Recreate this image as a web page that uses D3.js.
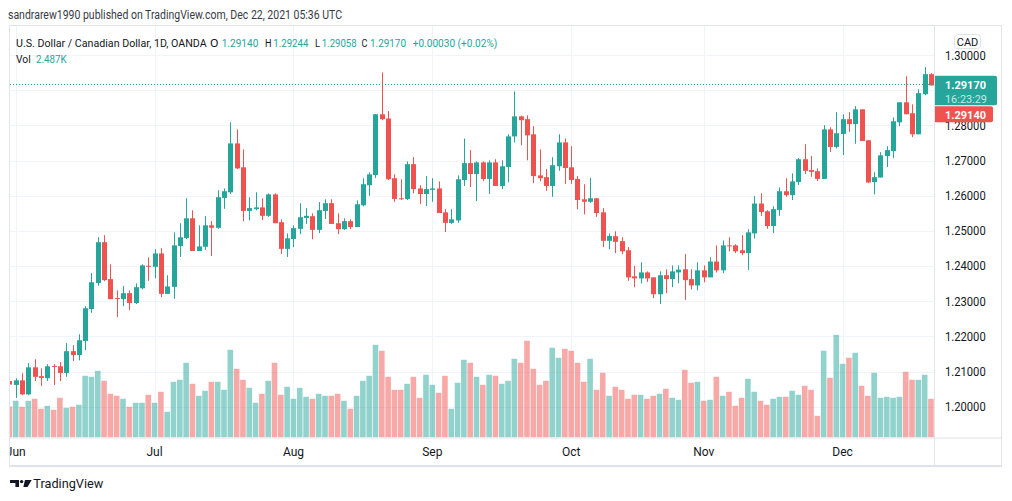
<!DOCTYPE html>
<html><head><meta charset="utf-8">
<script src="https://cdn.jsdelivr.net/npm/d3@7"></script>
<style>body{margin:0;background:#fff;}svg{display:block;font-family:Roboto,"Liberation Sans",sans-serif;}</style>
</head><body><svg id="c" width="1012" height="501"></svg>
<script>
// ---- data (USD/CAD daily, OANDA) ----
const firstDate = "2021-05-31";           // first visible session, weekdays follow
const openP  = [1.2073,1.2062,1.2075,1.2035,1.2112,1.2087,1.2081,1.2116,1.2115,1.2096,1.2158,1.2147,1.2187,1.2278,1.2352,1.2468,1.2363,1.2309,1.2306,1.2323,1.2295,1.2337,1.2401,1.2398,1.2436,1.2321,1.2341,1.2457,1.2480,1.2536,1.2443,1.2455,1.2516,1.2509,1.2594,1.2610,1.2749,1.2681,1.2557,1.2562,1.2567,1.2543,1.2604,1.2525,1.2449,1.2477,1.2506,1.2537,1.2542,1.2503,1.2557,1.2579,1.2522,1.2505,1.2528,1.2511,1.2573,1.2630,1.2659,1.2832,1.2820,1.2650,1.2593,1.2591,1.2690,1.2621,1.2605,1.2617,1.2621,1.2553,1.2523,1.2530,1.2645,1.2693,1.2662,1.2695,1.2648,1.2695,1.2628,1.2682,1.2769,1.2826,1.2818,1.2775,1.2658,1.2653,1.2628,1.2684,1.2752,1.2681,1.2648,1.2590,1.2583,1.2593,1.2553,1.2472,1.2485,1.2471,1.2445,1.2371,1.2365,1.2382,1.2368,1.2320,1.2374,1.2363,1.2382,1.2391,1.2363,1.2345,1.2388,1.2368,1.2413,1.2388,1.2459,1.2459,1.2445,1.2437,1.2493,1.2578,1.2556,1.2514,1.2560,1.2613,1.2602,1.2639,1.2704,1.2673,1.2670,1.2648,1.2789,1.2739,1.2776,1.2818,1.2804,1.2846,1.2758,1.2639,1.2652,1.2713,1.2727,1.2809,1.2866,1.2835,1.2775,1.2889,1.2946,1.2914];
const highP  = [1.2080,1.2081,1.2095,1.2124,1.2135,1.2109,1.2121,1.2121,1.2127,1.2181,1.2175,1.2206,1.2286,1.2380,1.2482,1.2488,1.2405,1.2331,1.2343,1.2331,1.2351,1.2405,1.2425,1.2448,1.2451,1.2374,1.2496,1.2522,1.2593,1.2559,1.2516,1.2542,1.2528,1.2616,1.2621,1.2809,1.2789,1.2732,1.2596,1.2610,1.2593,1.2607,1.2607,1.2533,1.2493,1.2516,1.2579,1.2565,1.2550,1.2582,1.2590,1.2590,1.2550,1.2536,1.2533,1.2587,1.2650,1.2667,1.2832,1.2951,1.2841,1.2661,1.2647,1.2698,1.2710,1.2630,1.2656,1.2650,1.2641,1.2562,1.2562,1.2658,1.2763,1.2730,1.2698,1.2698,1.2701,1.2704,1.2701,1.2775,1.2897,1.2828,1.2829,1.2798,1.2732,1.2676,1.2710,1.2775,1.2763,1.2741,1.2656,1.2633,1.2651,1.2594,1.2565,1.2493,1.2499,1.2482,1.2454,1.2400,1.2411,1.2385,1.2368,1.2385,1.2391,1.2402,1.2402,1.2434,1.2391,1.2411,1.2402,1.2425,1.2459,1.2473,1.2482,1.2462,1.2488,1.2505,1.2599,1.2607,1.2559,1.2570,1.2624,1.2650,1.2664,1.2707,1.2747,1.2713,1.2678,1.2801,1.2795,1.2838,1.2832,1.2838,1.2855,1.2846,1.2758,1.2667,1.2724,1.2741,1.2823,1.2866,1.2940,1.2860,1.2903,1.2966,1.2949,1.29244];
const lowP   = [1.2058,1.2025,1.2033,1.2033,1.2073,1.2059,1.2073,1.2062,1.2073,1.2085,1.2130,1.2132,1.2161,1.2267,1.2344,1.2357,1.2306,1.2255,1.2286,1.2275,1.2292,1.2334,1.2358,1.2365,1.2312,1.2321,1.2307,1.2426,1.2477,1.2443,1.2443,1.2446,1.2429,1.2506,1.2563,1.2605,1.2676,1.2528,1.2530,1.2559,1.2531,1.2540,1.2522,1.2435,1.2426,1.2454,1.2491,1.2520,1.2476,1.2494,1.2534,1.2520,1.2491,1.2503,1.2505,1.2511,1.2570,1.2600,1.2651,1.2815,1.2645,1.2583,1.2588,1.2588,1.2607,1.2577,1.2571,1.2583,1.2551,1.2497,1.2520,1.2523,1.2628,1.2625,1.2585,1.2642,1.2605,1.2628,1.2619,1.2639,1.2752,1.2744,1.2701,1.2636,1.2641,1.2614,1.2597,1.2671,1.2634,1.2634,1.2562,1.2547,1.2580,1.2540,1.2454,1.2448,1.2437,1.2434,1.2358,1.2340,1.2351,1.2355,1.2309,1.2292,1.2323,1.2340,1.2351,1.2304,1.2334,1.2331,1.2354,1.2368,1.2382,1.2380,1.2442,1.2437,1.2431,1.2389,1.2479,1.2543,1.2506,1.2494,1.2543,1.2597,1.2588,1.2631,1.2662,1.2654,1.2642,1.2648,1.2725,1.2735,1.2716,1.2782,1.2748,1.2756,1.2636,1.2604,1.2652,1.2682,1.2707,1.2798,1.2832,1.2767,1.2775,1.2886,1.2914,1.29058];
const closeP = [1.2063,1.2075,1.2035,1.2112,1.2085,1.2082,1.2115,1.2114,1.2096,1.2158,1.2147,1.2189,1.2280,1.2354,1.2468,1.2360,1.2306,1.2307,1.2323,1.2295,1.2340,1.2402,1.2399,1.2436,1.2321,1.2342,1.2459,1.2482,1.2536,1.2443,1.2456,1.2516,1.2509,1.2596,1.2613,1.2749,1.2678,1.2557,1.2565,1.2567,1.2543,1.2604,1.2522,1.2449,1.2479,1.2508,1.2539,1.2543,1.2503,1.2559,1.2579,1.2520,1.2505,1.2528,1.2511,1.2576,1.2633,1.2661,1.2832,1.2818,1.2647,1.2591,1.2591,1.2690,1.2619,1.2605,1.2619,1.2621,1.2551,1.2523,1.2533,1.2647,1.2693,1.2662,1.2695,1.2648,1.2695,1.2628,1.2684,1.2769,1.2826,1.2815,1.2772,1.2656,1.2650,1.2628,1.2687,1.2752,1.2679,1.2645,1.2588,1.2583,1.2593,1.2551,1.2472,1.2486,1.2469,1.2442,1.2368,1.2365,1.2382,1.2365,1.2320,1.2374,1.2363,1.2385,1.2390,1.2360,1.2345,1.2388,1.2368,1.2413,1.2388,1.2459,1.2457,1.2442,1.2437,1.2496,1.2578,1.2554,1.2514,1.2562,1.2613,1.2602,1.2641,1.2704,1.2671,1.2668,1.2648,1.2789,1.2739,1.2778,1.2818,1.2804,1.2846,1.2756,1.2638,1.2653,1.2715,1.2730,1.2812,1.2866,1.2832,1.2775,1.2892,1.2946,1.2914,1.2917];
const volumeK = [31,36.7,30.7,36.7,38.7,28.7,31.7,27.7,39.7,29.7,30.7,32.7,61.7,60.7,66.7,56.7,43.7,41.7,38.7,30.7,34.7,34.7,42.7,34.7,45.7,25.7,55.7,57.7,74.7,53.7,41.7,46.7,55.7,55.7,47.7,87.7,68.7,57.7,49.7,34.7,43.7,56.7,74.7,42.7,50.7,38.7,49.7,40.7,38.7,43.7,41.7,41.7,43.7,36.7,28.7,41.7,56.7,61.7,92.7,86.7,60.7,47.7,47.7,53.7,60.7,39.7,62.7,52.7,44.7,61.7,28.7,54.7,77.7,74.7,60.7,52.7,62.7,61.7,53.7,56.7,78.7,74.7,96.7,68.7,52.7,56.7,89.7,79.7,88.7,86.7,74.7,55.7,78.7,47.7,64.7,41.7,50.7,47.7,38.7,42.7,42.7,38.7,41.7,43.7,48.7,39.7,37.7,67.7,54.7,55.7,36.7,37.7,60.7,41.7,45.7,31.7,39.7,58.7,45.7,36.7,32.7,38.7,40.7,40.7,46.7,42.7,51.7,47.7,21.7,86.7,59.7,102.7,73.7,79.7,84.7,51.7,41.7,64.7,39.7,40.7,39.7,40.7,65.7,57.7,57.7,62.7,38.7,2.487];
const priceTicks = [1.20,1.21,1.22,1.23,1.24,1.25,1.26,1.27,1.28,1.29,1.30];
const monthNames = ["Jun","Jul","Aug","Sep","Oct","Nov","Dec"];
const prevClose = 1.29140;

// ---- build sessions (weekdays) ----
const dates = [];
{ let d = new Date(firstDate + "T00:00:00Z");
  while (dates.length < openP.length) { const wd = d.getUTCDay(); if (wd !== 0 && wd !== 6) dates.push(new Date(d)); d = new Date(d.getTime() + 864e5); } }
const bars = dates.map((d,i)=>({d, i, o:openP[i], h:highP[i], l:lowP[i], c:closeP[i], v:volumeK[i]}));
const n = bars.length;

const UP = "#26a69a", DN = "#ef5350", TXT = "#131722", GRID = "#f0f3fa", BORDER = "#e0e3eb";
const L = 10, R = 934, T = 26, B = 437.5, RIGHT = 1001.5, BOT = 465.5;
const step = 6.312;
const x = d3.scaleLinear().domain([0, n-1]).range([9.4, 9.4 + (n-1)*step]);
const y = d3.scaleLinear().domain([1.20, 1.30]).range([406.7, 55.2]);
const yv = d3.scaleLinear().domain([0, 100]).range([B, B-100]);

const svg = d3.select("#c");
svg.append("rect").attr("width",1012).attr("height",501).attr("fill","#fff");
const defs = svg.append("defs");
defs.append("clipPath").attr("id","plot").append("rect").attr("x",L).attr("y",T).attr("width",R-L).attr("height",B-T);
defs.append("clipPath").attr("id","taxis").append("rect").attr("x",L).attr("y",B).attr("width",R-L).attr("height",BOT-B);

// fitted text helper (reference font is narrower than the installed ones)
function fitText(sel, w){ return sel.attr("textLength", w).attr("lengthAdjust","spacingAndGlyphs"); }

// month ticks
const monthTicks = monthNames.map((m,k)=>{ const idx = bars.findIndex(b=>b.d.getUTCMonth()===5+k); return {m, idx}; });

// grid
const plot = svg.append("g").attr("clip-path","url(#plot)");
plot.selectAll("line.h").data(priceTicks).join("line").attr("x1",L).attr("x2",R)
  .attr("y1",d=>Math.round(y(d))+0.5).attr("y2",d=>Math.round(y(d))+0.5).attr("stroke",GRID).attr("stroke-width",1);
plot.selectAll("line.v").data(monthTicks).join("line").attr("y1",T).attr("y2",B)
  .attr("x1",d=>Math.round(x(d.idx))+0.5).attr("x2",d=>Math.round(x(d.idx))+0.5).attr("stroke",GRID);

// volume
const bw = 5;
plot.selectAll("rect.vol").data(bars).join("rect")
  .attr("x",d=>x(d.i)-bw/2-0.3).attr("width",bw+0.6)
  .attr("y",d=>yv(d.v)).attr("height",d=>B-yv(d.v))
  .attr("fill",d=>d.c>=d.o? "rgba(38,166,154,0.5)":"rgba(239,83,80,0.5)");

// candles
const cg = plot.selectAll("g.cd").data(bars).join("g");
cg.append("line").attr("x1",d=>Math.round(x(d.i))+0.5).attr("x2",d=>Math.round(x(d.i))+0.5)
  .attr("y1",d=>y(d.h)).attr("y2",d=>y(d.l)).attr("stroke",d=>d.c>=d.o?UP:DN).attr("stroke-width",1);
cg.append("rect").attr("x",d=>Math.round(x(d.i))+0.5-bw/2).attr("width",bw)
  .attr("y",d=>y(Math.max(d.o,d.c))).attr("height",d=>Math.max(1, Math.abs(y(d.o)-y(d.c))))
  .attr("fill",d=>d.c>=d.o?UP:DN);

// last price dotted line
const last = bars[n-1];
plot.append("line").attr("x1",L).attr("x2",R).attr("y1",Math.round(y(last.c))+0.5).attr("y2",Math.round(y(last.c))+0.5)
  .attr("stroke",UP).attr("stroke-dasharray","1,2");

// frame
svg.append("rect").attr("x",9.5).attr("y",25.5).attr("width",RIGHT-9.5).attr("height",BOT-25.5).attr("fill","none").attr("stroke",BORDER);
svg.append("line").attr("x1",R+0.5).attr("x2",R+0.5).attr("y1",T).attr("y2",BOT).attr("stroke",BORDER);
svg.append("line").attr("x1",L).attr("x2",RIGHT).attr("y1",B+0.5).attr("y2",B+0.5).attr("stroke",BORDER);
svg.append("line").attr("x1",9).attr("x2",RIGHT+0.5).attr("y1",BOT+0.5).attr("y2",BOT+0.5).attr("stroke",BORDER).attr("stroke-width",2);

// price axis labels (the one fully covered by the last-price label is not shown)
const ly = y(last.c);
const boxTop = ly - 8.5, boxBottom = ly + 38;
fitText(svg.append("g").selectAll("text").data(priceTicks.filter(t=>{ const ty=y(t); return !(ty>boxTop+2 && ty<boxBottom-6); })).join("text")
  .attr("x",945).attr("y",d=>y(d)+4.3).attr("font-size",12).attr("fill",TXT)
  .text(d=>d3.format(".5f")(d)), 40.7);

// CAD box
svg.append("rect").attr("x",954.5).attr("y",34.5).attr("width",26).attr("height",14).attr("rx",3).attr("fill","#fff").attr("stroke",BORDER);
svg.append("text").attr("x",967.5).attr("y",45.5).attr("text-anchor","middle").attr("font-size",11).attr("fill",TXT).text("CAD");

// last price label
svg.append("path").attr("d",`M${R+1},${ly-8.5}h60a2,2 0 0 1 2,2v25.5a2,2 0 0 1 -2,2h-60z`).attr("fill",UP);
fitText(svg.append("text").attr("x",945).attr("y",ly+4.2).attr("font-size",11.5).attr("font-weight","bold").attr("fill","#fff").text(d3.format(".5f")(last.c)), 41);
fitText(svg.append("text").attr("x",945).attr("y",ly+18.8).attr("font-size",11.5).attr("fill","rgba(255,255,255,0.75)").text("16:23:29"), 42);
svg.append("path").attr("d",`M${R+1},${ly+22}h56a2,2 0 0 1 2,2v12a2,2 0 0 1 -2,2h-56z`).attr("fill",DN);
fitText(svg.append("text").attr("x",945).attr("y",ly+34.2).attr("font-size",11.5).attr("font-weight","bold").attr("fill","#fff").text(d3.format(".5f")(prevClose)), 41);

// time axis
svg.append("g").attr("clip-path","url(#taxis)").selectAll("text").data(monthTicks).join("text")
  .attr("x",d=>x(d.idx)).attr("y",456).attr("text-anchor","middle").attr("font-size",12).attr("fill",TXT).text(d=>d.m);

// header
fitText(svg.append("text").attr("x",8).attr("y",19).attr("font-size",12).attr("fill","#363a45")
  .text("sandrarew1990 published on TradingView.com, Dec 22, 2021 05:36 UTC"), 334);
const f5 = d3.format(".5f");
const legendParts = [
  [16, 190.7, "U.S. Dollar / Canadian Dollar, 1D, OANDA", TXT],
  [210, 8.5, "O", TXT],[221.7, 36.6, f5(last.o), UP],
  [265, 6.5, "H", TXT],[273.3, 35, f5(last.h), UP],
  [315, 5, "L", TXT],[321.7, 35, f5(last.l), UP],
  [361.5, 6, "C", TXT],[370, 36, f5(last.c), UP],
  [412.7, 84.6, "+" + (last.c-last.o).toFixed(5) + " (+" + ((last.c-last.o)/last.o*100).toFixed(2) + "%)", UP]
];
svg.append("g").selectAll("text").data(legendParts).join("text")
  .attr("x",p=>p[0]).attr("y",46.5).attr("font-size",11).attr("fill",p=>p[3])
  .attr("textLength",p=>p[1]).attr("lengthAdjust","spacingAndGlyphs").text(p=>p[2]);
fitText(svg.append("text").attr("x",16).attr("y",62.5).attr("font-size",11.5).attr("fill",TXT).text("Vol"), 14.7);
fitText(svg.append("text").attr("x",36).attr("y",62.5).attr("font-size",11.5).attr("fill",UP).text(last.v.toFixed(3)+"K"), 30.7);

// TradingView logo
const logo = svg.append("g").attr("fill",TXT);
logo.append("path").attr("d","M10,480h9v7h-3.6v-4h-5.4z");
logo.append("circle").attr("cx",21.6).attr("cy",481.6).attr("r",1.7);
logo.append("path").attr("d","M25,480h6.7l-4.2,7h-4.2z");
fitText(svg.append("text").attr("x",33.3).attr("y",487.5).attr("font-size",13).attr("fill",TXT).text("TradingView"), 70);
</script></body></html>
